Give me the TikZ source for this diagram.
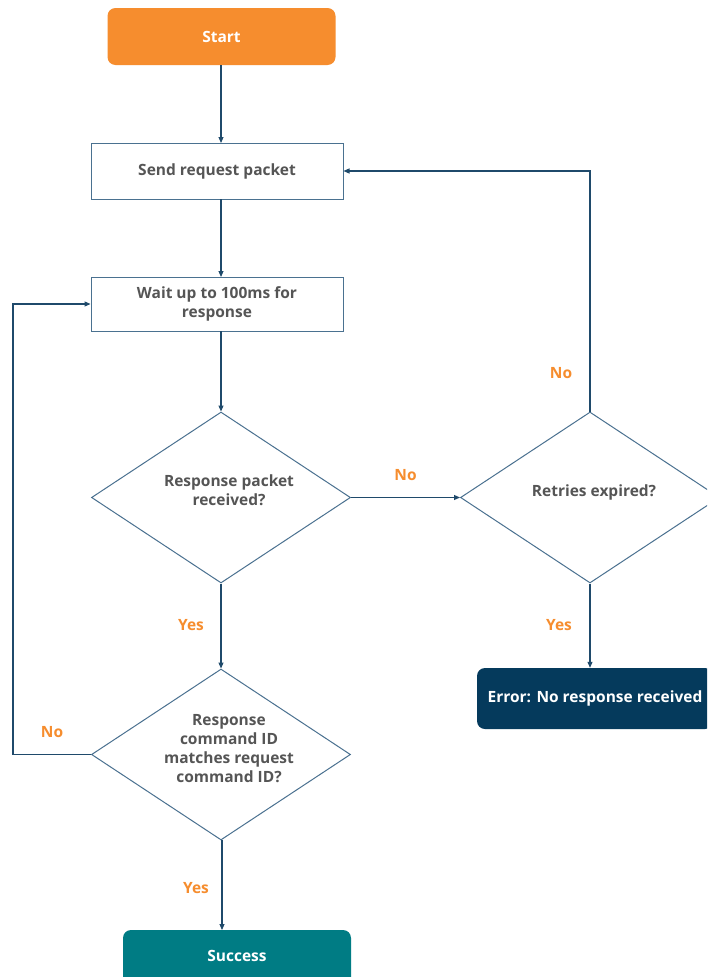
\documentclass[tikz,border=0pt]{standalone}
\usepackage{fontspec}
\setmainfont{Open Sans}
\usetikzlibrary{shapes.geometric,arrows.meta}
\definecolor{startc}{HTML}{F68D2E}
\definecolor{errc}{HTML}{053A5C}
\definecolor{succc}{HTML}{007C84}
\definecolor{linec}{HTML}{1F4A6B}
\definecolor{borderc}{HTML}{4A7190}
\definecolor{txtc}{HTML}{555555}
\definecolor{lblc}{HTML}{F68D2E}
\tikzset{
  base/.style={font=\bfseries\fontsize{15.5}{19}\selectfont, align=center, inner sep=0pt},
  term/.style={base, rounded corners=8pt, text=white, draw=none},
  proc/.style={base, draw=borderc, line width=1pt, fill=white, text=txtc},
  dec/.style={diamond, draw=borderc, line width=1pt, inner sep=0pt, minimum width=259pt, minimum height=171pt, aspect=1.515},
  dtxt/.style={base, text=txtc},
  lbl/.style={base, text=lblc},
  arr/.style={draw=linec, line width=1.1pt, -{Triangle[length=6pt,width=5pt]}},
}
\begin{document}
\begin{tikzpicture}[x=1pt,y=-1pt]
\useasboundingbox (0,0) rectangle (707,977);
\clip (0,0) rectangle (707,977);
\fill[white] (0,0) rectangle (707,977);

\node[term, fill=startc, minimum width=228pt, minimum height=57pt] (start) at (221.5,36.5) {Start};
\node[proc, minimum width=252pt, minimum height=56pt] (send) at (217,171) {Send request packet};
\node[proc, minimum width=252pt, minimum height=54pt] (wait) at (217,304) {Wait up to 100ms for\\response};
\node[dec] (d1) at (221,497.5) {};
\node[dtxt] (d1t) at (229,490) {Response packet\\received?};
\node[dec] (d2) at (590,497.5) {};
\node[dtxt] (d2t) at (594,492) {Retries expired?};
\node[dec] (d3) at (221,754.5) {};
\node[dtxt] (d3t) at (229,749) {Response\\command ID\\matches request\\command ID?};
\node[term, fill=errc, minimum width=236pt, minimum height=61pt] (err) at (595,698.5) {Error: No response received};
\node[term, fill=succc, minimum width=228pt, minimum height=56pt] (succ) at (237,958) {};
\node[base, text=white] (succt) at (237,956) {Success};

\coordinate (loopb) at (13,754.5);
\coordinate (loopt) at (13,304);

\draw[arr] (221,65) -- (221,143);
\draw[arr] (221,199) -- (221,277);
\draw[arr] (221,331) -- (d1.north);
\draw[arr] (d1.east) -- node[lbl, above=16pt] (no1) {No} (d2.west);
\draw[arr] (d2.north) -- (d2.north |- send.east) -- (send.east);
\node[lbl] (no2) at (561,373) {No};
\draw[arr] (d2.south) -- (d2.south |- err.north);
\node[lbl] (yes2) at (559,625) {Yes};
\draw[arr] (d1.south) -- (d3.north);
\node[lbl] (yes1) at (191,625) {Yes};
\draw[arr] (d3.west) -- (loopb) -- (loopt) -- (wait.west);
\node[lbl] (no3) at (52,732) {No};
\draw[arr] (222,840) -- (222,930);
\node[lbl] (yes3) at (196,888) {Yes};
\end{tikzpicture}
\end{document}
